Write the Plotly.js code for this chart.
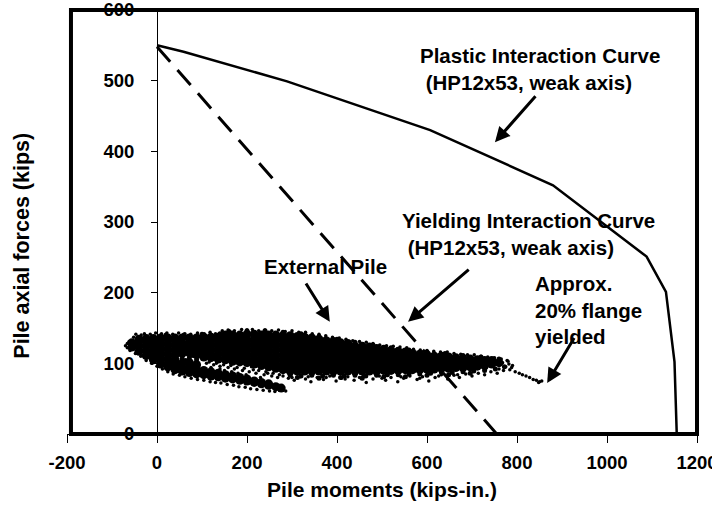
<!DOCTYPE html>
<html><head><meta charset="utf-8">
<script src="https://cdn.plot.ly/plotly-3.0.1.min.js"></script>
<style>html,body{margin:0;padding:0;background:#fff}</style>
</head><body><div id="chart" style="width:712px;height:508px"></div>
<script>
// ---- Axis ticks ----
const xTickVals = [-200, 0, 200, 400, 600, 800, 1000, 1200];
const xTickText = ['-200', '0', '200', '400', '600', '800', '1000', '1200'];
const yTickVals = [0, 100, 200, 300, 400, 500, 600];
const yTickText = ['0', '100', '200', '300', '400', '500', '600'];

// ---- Plastic interaction curve (HP12x53, weak axis) ----
const plasticM = [0, 59, 289, 607, 880, 1088, 1131, 1150, 1155];
const plasticP = [550, 541, 499, 430, 352, 251, 201, 102, 0];

// ---- Yielding interaction curve (HP12x53, weak axis) ----
const yieldM = [0, 755];
const yieldP = [548, 0];

// ---- External pile (moment, axial force) read from the cloud ----
const cloudLeft = [
[-56,123],[-56,129],
[-40,117],[-40,124],[-40,131],[-40,134],
[-24,111],[-24,118],[-24,125],[-24,132],[-24,135],
[-8,105],[-8,109],[-8,116],[-8,123],[-8,130],[-8,135],
[8,99],[8,106],[8,113],[8,120],[8,127],[8,134],[8,136],
[24,95],[24,99],[24,106],[24,113],[24,120],[24,127],[24,134],[24,136],
[40,91],[40,98],[40,105],[40,112],[40,119],[40,126],[40,133],[40,136],
[56,89],[56,93],[56,100],[56,114],[56,121],[56,128],[56,136],
[72,87],[72,94],[72,101],[72,115],[72,122],[72,129],[72,136],
[88,85],[88,91],[88,98],[88,112],[88,119],[88,126],[88,133],[88,136]
];
const cloudMid = [
[104,109],[104,116],[104,123],[104,130],[104,137],
[120,108],[120,112],[120,119],[120,126],[120,133],[120,137],
[136,106],[136,113],[136,120],[136,127],[136,134],[136,137],
[152,105],[152,112],[152,119],[152,126],[152,133],[152,140],
[168,103],[168,107],[168,114],[168,121],[168,128],[168,135],[168,140],
[184,102],[184,109],[184,116],[184,123],[184,130],[184,137],[184,140],
[200,101],[200,105],[200,112],[200,119],[200,126],[200,133],[200,141],
[216,99],[216,106],[216,113],[216,120],[216,127],[216,134],[216,141],
[232,97],[232,101],[232,108],[232,115],[232,122],[232,129],[232,136],[232,140],
[248,95],[248,102],[248,109],[248,116],[248,123],[248,130],[248,137],[248,140],
[264,93],[264,97],[264,104],[264,111],[264,118],[264,125],[264,132],[264,140],
[280,91],[280,98],[280,105],[280,112],[280,119],[280,126],[280,133],[280,139],
[296,89],[296,93],[296,100],[296,107],[296,114],[296,121],[296,128],[296,135],[296,139],
[312,89],[312,96],[312,103],[312,110],[312,117],[312,124],[312,131],[312,138],
[328,89],[328,93],[328,100],[328,107],[328,114],[328,121],[328,128],[328,135],[328,137],
[344,89],[344,96],[344,103],[344,110],[344,117],[344,124],[344,131],[344,136]
];
const cloudRight = [
[360,89],[360,93],[360,100],[360,107],[360,114],[360,121],[360,128],[360,134],
[376,89],[376,96],[376,103],[376,110],[376,117],[376,124],[376,132],
[392,89],[392,93],[392,100],[392,107],[392,114],[392,121],[392,128],[392,131],
[408,89],[408,96],[408,103],[408,110],[408,117],[408,124],[408,129],
[424,89],[424,93],[424,100],[424,107],[424,114],[424,121],[424,128],
[440,89],[440,96],[440,103],[440,110],[440,117],[440,124],
[456,89],[456,93],[456,100],[456,107],[456,114],[456,121],[456,124],
[472,89],[472,96],[472,103],[472,110],[472,117],[472,123],
[488,89],[488,93],[488,100],[488,107],[488,114],[488,121],
[504,90],[504,97],[504,104],[504,111],[504,118],[504,120],
[520,90],[520,94],[520,101],[520,108],[520,115],[520,118],
[536,90],[536,97],[536,104],[536,111],[536,117],
[552,91],[552,95],[552,102],[552,109],[552,116],
[568,91],[568,98],[568,105],[568,112],[568,114],
[584,91],[584,95],[584,102],[584,109],[584,113],
[600,92],[600,99],[600,106],[600,112],
[616,92],[616,96],[616,103],[616,110],
[632,93],[632,100],[632,107],[632,110],
[648,93],[648,97],[648,104],[648,109],
[664,94],[664,101],[664,108],
[680,94],[680,98],[680,105],[680,107],
[696,95],[696,102],[696,106],
[712,96],[712,100],[712,105],
[728,97],[728,104],
[744,99],[744,104],[760,101]
];
const lowerBand = [
[104,84],[104,90],[120,82],[120,88],[136,81],[136,86],[152,79],[152,84],
[168,78],[168,82],[184,76],[184,80],[200,75],[200,78],[216,73],[216,75],
[232,71],[232,73],[248,69],[248,71],[264,67],[276,65]
];
const edgeFringe = [
[296,83],[320,82],[344,83],[368,82],[392,83],[416,82],[440,83],[464,82],[488,83],[512,84],
[536,84],[560,85],[584,85],[608,86],[632,87],[656,87],[680,88],[704,89],[728,90],[752,92],
[312,80],[360,79],[408,80],[456,79],[504,81],[552,81],[600,83],[648,84],[696,86],[772,95],
[160,145],[200,146],[240,146],[280,144],[320,142],[360,138],[400,134],[440,130],[480,126],
[520,122],[560,119],[600,116],[640,114],[680,111],[720,109],[760,106],[20,140],[60,140],
[100,141],[140,142],[56,107],[72,108],[88,105],[64,104],[80,111]
];
const topEdge = [
[-66,128],[-62,131],[-60,124],[-52,137],[-47,141],[-35,140],[-28,142],[-15,141],[-3,143],
[10,142],[22,143],[35,141],[48,143],[62,142],[75,141],[90,143],[105,142],[118,144],[130,142],
[145,146],[158,147],[172,146],[188,148],[200,147],[212,148],[226,146],[240,147],[255,146],
[270,147],[285,145],[300,146],[315,144],[330,144],[345,142],[360,141],[375,139],[390,137],
[405,136],[420,134],[435,132],[450,131],[465,130],[480,128],[495,126],[510,125],[525,124],
[540,123],[555,122],[570,120],[585,119],[600,118],[615,117],[630,116],[645,116],[660,114],
[675,113],[690,112],[705,112],[720,110],[735,109],[750,108],[765,106],[780,103],[790,97]
];
const bottomEdge = [
[280,82],[292,79],[305,76],[318,81],[330,78],[342,74],[356,80],[370,77],[384,82],[398,75],
[410,79],[424,81],[438,76],[450,80],[465,73],[480,78],[494,82],[508,76],[520,80],[535,74],
[548,79],[562,82],[578,77],[590,81],[604,75],[618,80],[632,84],[646,78],[660,83],[672,80],
[686,85],[700,82],[714,86],[728,84],[742,88],[756,86],[770,90],[784,91],
[300,80],[336,81],[376,80],[418,78],[458,82],[500,79],[542,81],[584,79],[626,82],[668,84]
];
const rightSpeckle = [
[736,100],[748,95],[752,103],[762,98],[768,101],[775,95],[782,99],[788,94],[760,92],
[744,106],[731,93],[778,104]
];
const trail = [
[796,88],[805,86],[812,84],[820,82],[828,80],[836,77],[843,76],[850,74],[855,75],[848,73]
];
const lowerEdge = [
[-70,125],[-66,122],[-60,118],[-48,114],[-36,110],[-24,104],[-12,100],[-11,100],[0,96],[12,92],
[24,88],[36,85],[50,83],[62,81],[76,79],[90,77],[104,76],[118,74],[130,73],[142,72],
[156,70],[170,69],[182,67],[196,66],[208,64],[222,63],[236,62],[250,61],[262,60],[272,62],
[280,64],[268,66],[286,61]
];
const gapSpeckle = [
[110,100],[126,98],[140,96],[158,94],[172,92],[190,90],[205,88],[220,86],[238,84],[255,82],
[268,80],[180,86],[214,91],[246,86],[116,102],[132,100],[148,98],[164,97],[178,94],[194,93],
[210,95],[226,90],[242,88],[258,86],[272,84],[150,90],[166,88],[198,84],[230,80],[120,94],
[140,92]
];

// ---- Labels ----
const xTitle = 'Pile moments (kips-in.)';
const yTitle = 'Pile axial forces (kips)';

const F = 'Liberation Sans, Arial, sans-serif';
const xs = a => a.map(p => p[0]);
const ys = a => a.map(p => p[1]);
const core = cloudLeft.concat(cloudMid, cloudRight, lowerBand);
const dots = topEdge.concat(bottomEdge, rightSpeckle, trail, lowerEdge, gapSpeckle);

const traces = [
  {type:'scatter', mode:'markers', x: xs(core), y: ys(core),
   marker:{color:'#000', size:9, line:{width:0}}, showlegend:false, hoverinfo:'skip'},
  {type:'scatter', mode:'markers', x: xs(edgeFringe), y: ys(edgeFringe),
   marker:{color:'#000', size:5, line:{width:0}}, showlegend:false, hoverinfo:'skip'},
  {type:'scatter', mode:'markers', x: xs(dots), y: ys(dots),
   marker:{color:'#000', size:3.5, line:{width:0}}, showlegend:false, hoverinfo:'skip'},
  {type:'scatter', mode:'lines', x: yieldM, y: yieldP,
   line:{color:'#000', width:3, dash:'20px,11px'}, showlegend:false, hoverinfo:'skip'},
  {type:'scatter', mode:'lines', x: plasticM, y: plasticP,
   line:{color:'#000', width:2.5}, showlegend:false, hoverinfo:'skip'}
];

const tf = {family:F, size:18.5, color:'#000', weight:'bold'};
const af = {family:F, size:20.5, color:'#000', weight:'bold'};

function arrow(tx, ty, hx, hy){
  return {xref:'x', yref:'y', axref:'x', ayref:'y', x:hx, y:hy, ax:tx, ay:ty, text:'',
    showarrow:true, arrowhead:2, arrowsize:1, arrowwidth:3, arrowcolor:'#000', standoff:0, startstandoff:0};
}

const layout = {
  width:712, height:508,
  margin:{l:67, r:15, t:10, b:74},
  paper_bgcolor:'#fff', plot_bgcolor:'#fff',
  showlegend:false,
  font:{family:F, color:'#000'},
  xaxis:{range:[-200,1200], tickvals:xTickVals, ticktext:xTickText,
    ticks:'outside', ticklen:8, tickwidth:1, tickcolor:'#000',
    showline:true, linecolor:'#000', linewidth:1, showgrid:false, zeroline:false,
    tickfont:tf, ticklabelstandoff:4, ticklabeloverflow:'allow',
    title:{text:xTitle, font:{family:F, size:21, color:'#000', weight:'bold'}, standoff:10}},
  yaxis:{range:[0,600], anchor:'free', position:200/1400, tickvals:yTickVals, ticktext:yTickText,
    ticks:'outside', ticklen:6, tickwidth:1, tickcolor:'#000',
    showline:true, linecolor:'#000', linewidth:1, showgrid:false, zeroline:false,
    tickfont:tf, ticklabelstandoff:13, ticklabeloverflow:'allow'},
  shapes:[{type:'rect', xref:'paper', yref:'paper', x0:0.0063, x1:1, y0:0, y1:1,
    line:{color:'#000', width:4}, fillcolor:'rgba(0,0,0,0)', layer:'above'}],
  annotations:[
    {xref:'paper', yref:'paper', x:-0.0719, y:0.4434, text:yTitle, textangle:-90,
     showarrow:false, xanchor:'center', yanchor:'middle', font:{family:F, size:21.5, color:'#000', weight:'bold'}},
    {xref:'x', yref:'y', x:580, y:516, text:'Plastic Interaction Curve<br>&nbsp;(HP12x53, weak axis)',
     showarrow:false, xanchor:'left', yanchor:'middle', align:'left', font:af},
    {xref:'x', yref:'y', x:540, y:283, text:'Yielding Interaction Curve<br>&nbsp;(HP12x53, weak axis)',
     showarrow:false, xanchor:'left', yanchor:'middle', align:'left', font:af},
    {xref:'x', yref:'y', x:836, y:176, text:'Approx.<br>20% flange<br>yielded',
     showarrow:false, xanchor:'left', yanchor:'middle', align:'left', font:af},
    {xref:'x', yref:'y', x:374, y:236.5, text:'External Pile',
     showarrow:false, xanchor:'center', yanchor:'middle', align:'center', font:af},
    arrow(844, 480, 751, 413),
    arrow(696, 234.5, 558, 159),
    arrow(329, 215, 384, 159),
    arrow(929, 138, 867, 72)
  ]
};

Plotly.newPlot('chart', traces, layout, {staticPlot:true});
</script>
</body></html>
